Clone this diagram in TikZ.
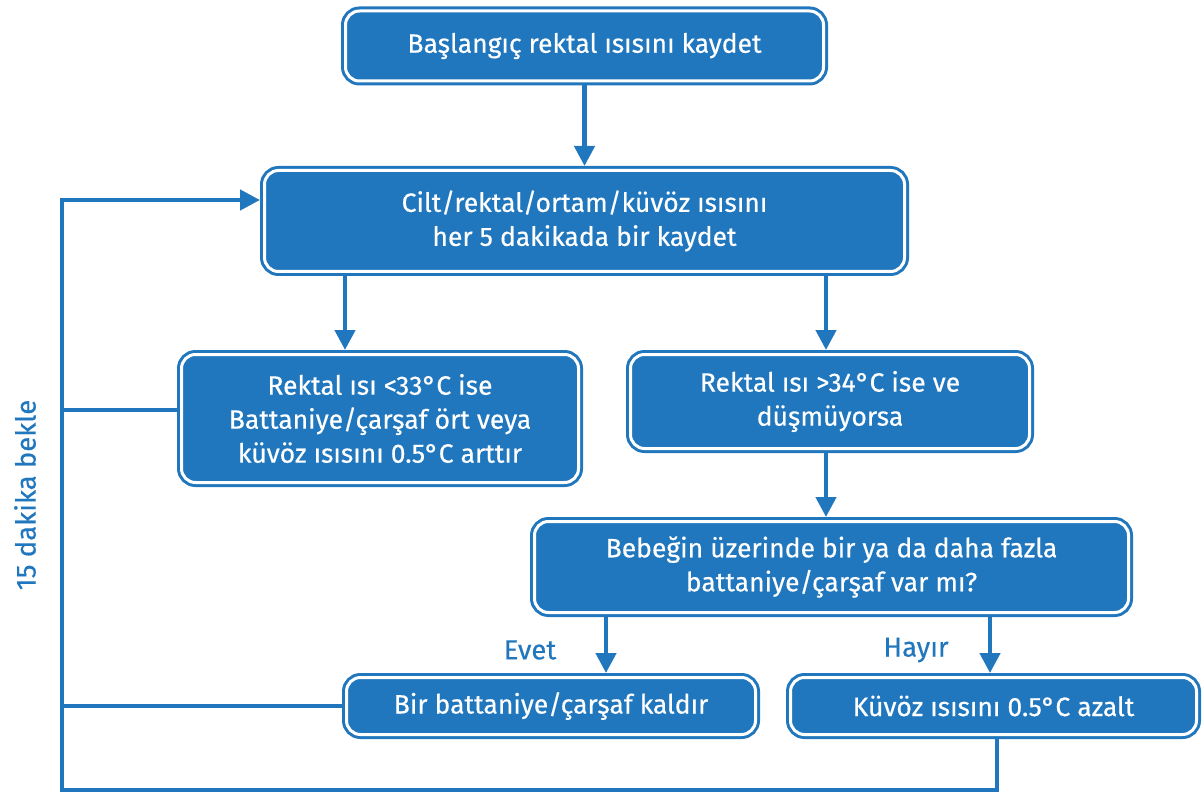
\documentclass[tikz,border=0pt]{standalone}
\usepackage{fontspec}
\setmainfont{Fira Sans}[FakeBold=0.4,UprightFeatures={FakeBold=0.4}]
\usetikzlibrary{arrows.meta}
\definecolor{flowblue}{RGB}{33,119,189}
\begin{document}
\begin{tikzpicture}[x=1pt,y=-1pt,
  box/.style={draw=flowblue, double=white, double distance=3pt, line width=3pt,
    fill=flowblue, rounded corners=14pt, text=white, align=center,
    font=\fontsize{26.5}{34}\selectfont, outer sep=4.5pt, inner sep=0pt},
  link/.style={draw=flowblue, line width=4.5pt},
  conn/.style={link, -{Triangle[length=20pt,width=20pt]}},
  lbl/.style={text=flowblue, font=\fontsize{27.5}{30}\selectfont}]
\useasboundingbox (0,0) rectangle (1204,794);

\node[box, minimum width=478pt, minimum height=70pt] (b1) at (584.5,46)
  {Başlangıç rektal ısısını kaydet};
\node[box, minimum width=640pt, minimum height=101pt] (b2) at (584.5,221)
  {Cilt/rektal/ortam/küvöz ısısını\\her 5 dakikada bir kaydet};
\node[box, minimum width=397pt, minimum height=128pt] (b3) at (380,418.5)
  {Rektal ısı <33°C ise\\Battaniye/çarşaf ört veya\\küvöz ısısını 0.5°C arttır};
\node[box, minimum width=399pt, minimum height=94pt] (b4) at (830,401.5)
  {Rektal ısı >34°C ise ve\\düşmüyorsa};
\node[box, minimum width=594pt, minimum height=91pt] (b5) at (831.5,567)
  {Bebeğin üzerinde bir ya da daha fazla\\battaniye/çarşaf var mı?};
\node[box, minimum width=409pt, minimum height=57pt] (b6) at (551,706)
  {Bir battaniye/çarşaf kaldır};
\node[box, minimum width=406pt, minimum height=57pt] (b7) at (993.5,706)
  {Küvöz ısısını 0.5°C azalt};

\draw[conn] (b1.south) -- (b2.north);
\draw[conn] (345,0 |- b2.south) -- (345,0 |- b3.north);
\draw[conn] (826,0 |- b2.south) -- (826,0 |- b4.north);
\draw[conn] (826,0 |- b4.south) -- (826,0 |- b5.north);
\draw[conn] (606,0 |- b5.south) -- (606,0 |- b6.north);
\draw[conn] (990,0 |- b5.south) -- (990,0 |- b7.north);

\coordinate (loopdown) at (997,790);
\coordinate (loopup) at (62,200);
\draw[conn] (997,0 |- b7.south) -- (loopdown) -| (loopup) -- (b2.west |- loopup);
\draw[link] (b3.west |- 0,410) -- (62,410);
\draw[link] (b6.west) -- (62,0 |- b6.west);

\node[lbl] (yes) at (530,650) {Evet};
\node[lbl] (no) at (916,650) {Hayır};
\node[lbl, rotate=90] (wait) at (25,495) {15 dakika bekle};
\end{tikzpicture}
\end{document}
